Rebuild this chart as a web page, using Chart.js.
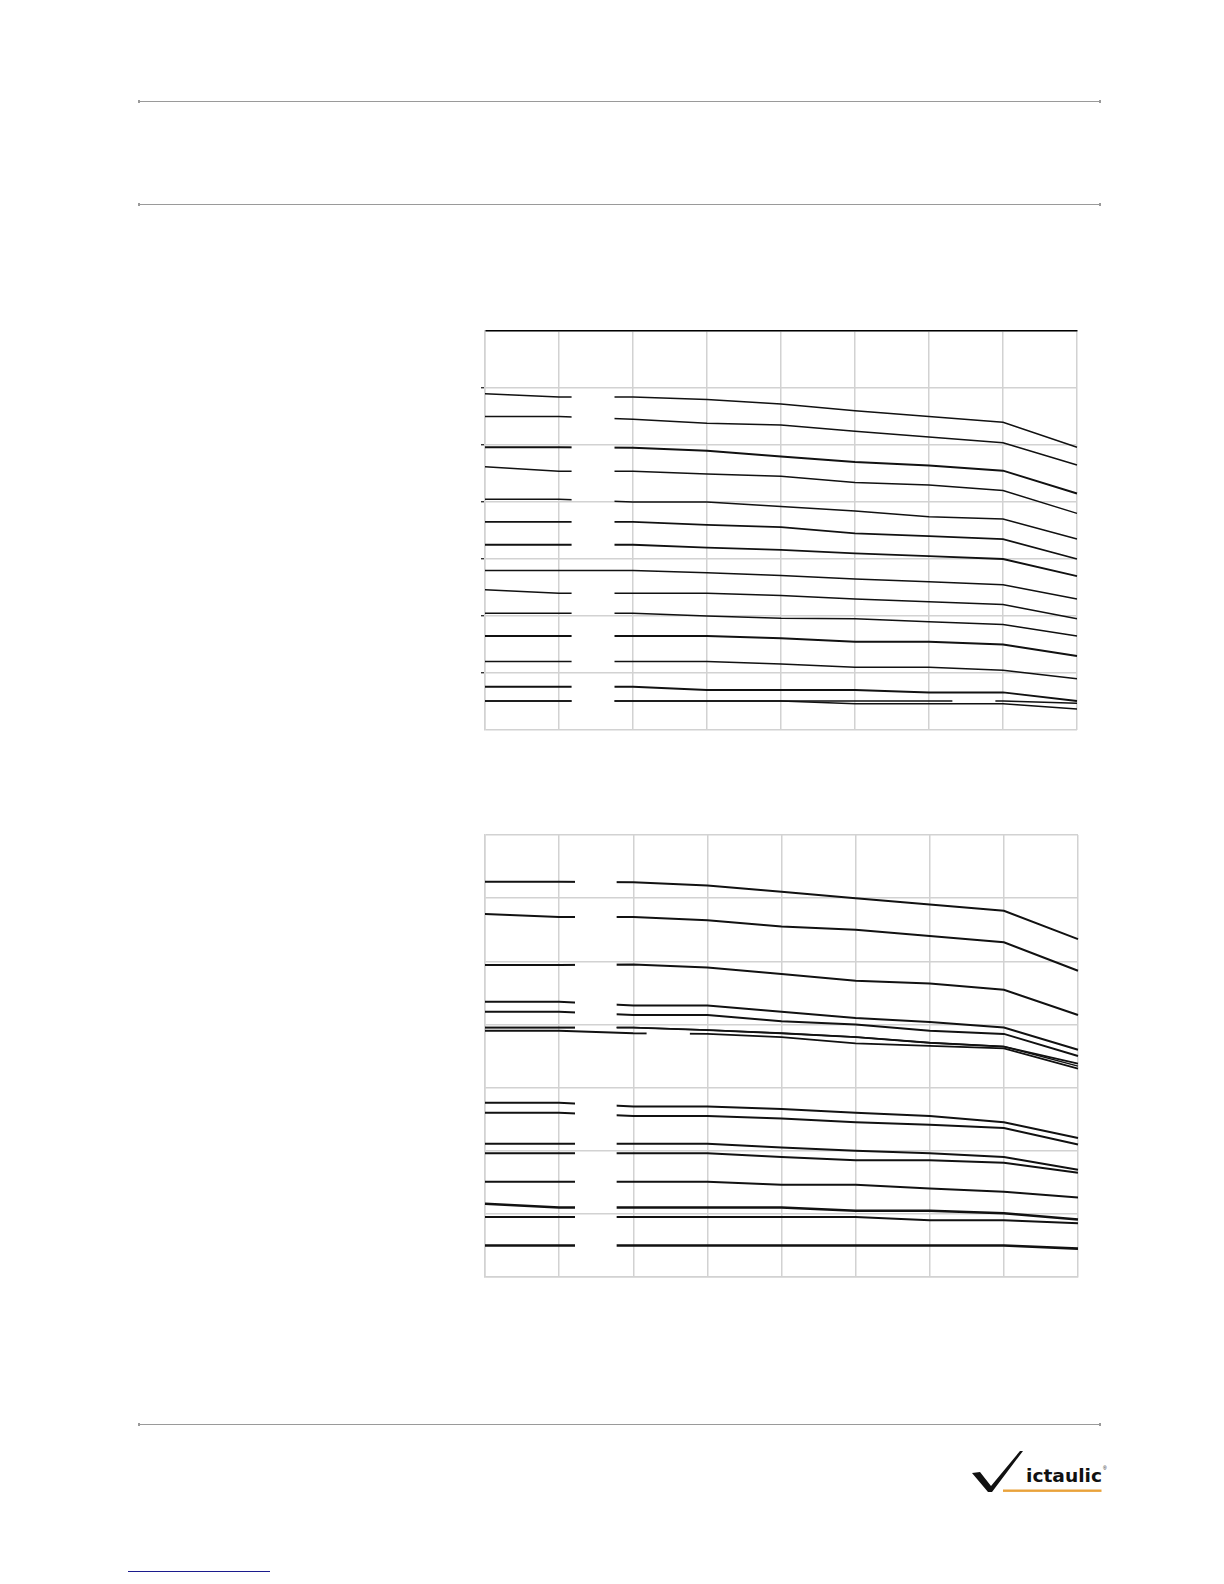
<!DOCTYPE html>
<html>
<head>
<meta charset="utf-8">
<script src="https://cdn.jsdelivr.net/npm/chart.js@4.4.1/dist/chart.umd.min.js"></script>
<style>
  html, body { margin: 0; padding: 0; background: #fff; }
  body { width: 1224px; height: 1584px; position: relative; overflow: hidden; font-family: "Liberation Sans", Arial, sans-serif; }
  .rule { position: absolute; left: 138px; width: 963px; height: 0; border-top: 1.3px solid #9a9a9a; }
  .rule:before, .rule:after { content: ""; position: absolute; top: -2px; width: 2px; height: 3px; background: #9a9a9a; }
  .rule:before { left: 0; }
  .rule:after { right: 0; }
  .box { position: absolute; }
  #link { position: absolute; left: 128px; top: 1571px; width: 142px; height: 0; border-top: 1.5px solid #1c1c8e; }
  #logo { position: absolute; left: 960px; top: 1445px; }
</style>
</head>
<body>
<div class="rule" style="top:101px"></div>
<div class="rule" style="top:204px"></div>
<div class="rule" style="top:1424px"></div>

<div class="box" style="left:479px; top:329px;"><canvas id="chartTop" width="600" height="403"></canvas></div>
<div class="box" style="left:483px; top:833px;"><canvas id="chartBottom" width="597" height="446"></canvas></div>

<svg id="logo" width="160" height="55" viewBox="0 0 160 55">
  <polygon points="12,28 20,27 31,41 60,6 63,6 32,47 28,47" fill="#111"/>
  <text x="66" y="37" font-family="DejaVu Sans, Liberation Sans, sans-serif" font-weight="bold" font-size="17" textLength="76" lengthAdjust="spacingAndGlyphs" fill="#111">ictaulic</text>
  <text x="143" y="25" font-family="Liberation Sans, Arial, sans-serif" font-size="5" fill="#111">®</text>
  <rect x="43" y="44.5" width="98.5" height="2.4" fill="#e9a23b"/>
</svg>
<div id="link"></div>

<script>
// categorias do eixo x (sem rótulos visíveis na figura)
const tempLabels = ['-20', '0', '40', '80', '120', '160', '200', '240', '280'];

// limites do eixo y
const yMin = 0;
const yMax = 350;
const yStep = 50;

// grafico de cima
const upper1 = [295, 292, 292, 290, 286, 280, 275, 270, 248];
const upper2 = [275, 275, 272.5, 269, 267.5, 262, 257, 252, 232.5];
const upper3 = [248, 248, 247.5, 245, 240, 235, 232, 227.5, 207.5];
const upper4 = [231, 227, 227, 224.5, 222.5, 217, 215, 210, 190];
const upper5 = [202.5, 202.5, 200, 200, 196, 192, 187, 185, 167.5];
const upper6 = [182.5, 182.5, 182.5, 180, 178, 172.5, 170, 167.5, 150];
const upper7 = [162.5, 162.5, 162.5, 160, 158, 155, 152.5, 150, 135];
const upper8 = [140, 140, 140, 138, 135.5, 132.5, 130, 127.5, 115];
const upper9 = [123, 120, 120, 120, 118, 115, 112.5, 110, 97.5];
const upper10 = [102.5, 102.5, 102.5, 100, 98, 97.5, 95, 92.5, 82.5];
const upper11 = [82.5, 82.5, 82.5, 82.5, 80.5, 77.5, 77.5, 75, 65];
const upper12 = [60, 60, 60, 60, 58, 55, 55, 52.5, 45];
const upper13 = [38, 38, 38, 35, 35, 35, 33, 33, 25.5];
const upper14 = [25.5, 25.5, 25.5, 25.5, 25.5, 25.5, 25.5, 25.5, 23.5];
const upper15 = [25.5, 25.5, 25.5, 25.5, 25.5, 23, 23, 23, 18.5];

// grafico de baixo
const lower1 = [313, 313, 312.5, 310, 305, 300, 295, 290, 267.5];
const lower2 = [287.5, 285, 285, 282.5, 277.5, 275, 270, 265, 242.5];
const lower3 = [247, 247, 247.5, 245, 240, 234.5, 232.5, 227.5, 207.5];
const lower4 = [218, 218, 215, 215, 210, 205, 202, 197.5, 180];
const lower5 = [210, 210, 207.5, 207.5, 202.5, 200, 195, 192.5, 175];
const lower6 = [197.5, 197.5, 197.5, 195.5, 193, 190, 185.5, 182.5, 169];
const lower7 = [197.5, 197.5, 197.5, 195.5, 193, 190, 185.5, 182.5, 167];
const lower8 = [195, 195, 193, 192.5, 190, 185, 183, 181, 165];
const lower9 = [138, 138, 135, 135, 133, 130, 127.5, 122.5, 110];
const lower10 = [130, 130, 127.5, 127.5, 125.5, 122.5, 120.5, 118, 105];
const lower11 = [105.5, 105.5, 105.5, 105.5, 102.5, 100, 98, 95, 85];
const lower12 = [98, 98, 98, 98, 95, 92.5, 92.5, 90.5, 82.5];
const lower13 = [75.5, 75.5, 75.5, 75.5, 73, 73, 70, 67.5, 63];
const lower14 = [58, 55, 55, 55, 55, 52.5, 52.5, 50.5, 45.5];
const lower15 = [47.5, 47.5, 47.5, 47.5, 47.5, 47.5, 45, 45, 42.5];
const lower16 = [25, 25, 25, 25, 25, 25, 25, 25, 22.5];

// recorta o traço das linhas nos intervalos onde ficavam os rótulos
const gapClip = {
    id: "gapClip",
    beforeDatasetDraw(chart, args) {
        const ctx = chart.ctx;
        const gaps = chart.data.datasets[args.index].gaps || [];
        ctx.save();
        if (gaps.length === 0) return;
        const a = chart.chartArea;
        const x = chart.scales.x;
        ctx.beginPath();
        ctx.rect(0, 0, chart.width, chart.height);
        gaps.forEach(g => {
            const x1 = x.getPixelForValue(g[0]);
            const x2 = x.getPixelForValue(g[1]);
            ctx.rect(x1, a.top - 5, x2 - x1, a.bottom - a.top + 10);
        });
        ctx.clip("evenodd");
    },
    afterDatasetDraw(chart) {
        chart.ctx.restore();
    }
};

function linha(data, width, gaps) {
    return {
        data: data,
        borderColor: "#111",
        borderWidth: width,
        pointRadius: 0,
        tension: 0,
        fill: false,
        gaps: gaps
    };
}

const gridGray = "#d2d2d2";

function opcoes(top) {
    return {
        responsive: false,
        animation: false,
        devicePixelRatio: 1,
        layout: { padding: top ? { top: 2, right: 2, bottom: 2, left: 0 } : 2 },
        plugins: { legend: { display: false }, tooltip: { enabled: false } },
        scales: {
            x: {
                position: top ? "top" : "bottom",
                offset: false,
                ticks: { display: false },
                grid: { color: gridGray, lineWidth: 1.5, drawTicks: false },
                border: top ? { color: "#000", width: 1.6 } : { color: gridGray, width: 1.5 },
                afterFit: s => { s.height = 0; }
            },
            y: {
                min: yMin,
                max: yMax,
                ticks: { display: false, stepSize: yStep },
                grid: {
                    color: gridGray,
                    lineWidth: 1.5,
                    drawTicks: top,
                    tickLength: 4,
                    tickWidth: 1.2,
                    tickColor: c => (c.index > 0 && c.index < 7) ? "#111" : "rgba(0,0,0,0)"
                },
                border: { color: gridGray, width: 1.5 },
                afterFit: s => { s.width = top ? 6 : 0; }
            }
        }
    };
}

const g1 = [[1.17, 1.75]];
const g2 = [[1.214, 1.776]];

new Chart(document.getElementById("chartTop").getContext("2d"), {
    type: "line",
    data: {
        labels: tempLabels,
        datasets: [
            linha(upper1, 1.5, g1),
            linha(upper2, 1.5, g1),
            linha(upper3, 2, g1),
            linha(upper4, 1.5, g1),
            linha(upper5, 1.5, g1),
            linha(upper6, 1.8, g1),
            linha(upper7, 1.8, g1),
            linha(upper8, 1.5, []),
            linha(upper9, 1.5, g1),
            linha(upper10, 1.5, g1),
            linha(upper11, 2, g1),
            linha(upper12, 1.5, g1),
            linha(upper13, 2, g1),
            linha(upper14, 1.5, [[1.17, 1.75], [6.316, 6.897]]),
            linha(upper15, 1.5, g1)
        ]
    },
    options: opcoes(true),
    plugins: [gapClip]
});

new Chart(document.getElementById("chartBottom").getContext("2d"), {
    type: "line",
    data: {
        labels: tempLabels,
        datasets: [
            linha(lower1, 2, g2),
            linha(lower2, 2, g2),
            linha(lower3, 2, g2),
            linha(lower4, 2, g2),
            linha(lower5, 2, g2),
            linha(lower6, 1.8, g2),
            linha(lower7, 1.5, g2),
            linha(lower8, 1.8, [[2.18, 2.764]]),
            linha(lower9, 2, g2),
            linha(lower10, 2, g2),
            linha(lower11, 2, g2),
            linha(lower12, 2, g2),
            linha(lower13, 2, g2),
            linha(lower14, 2.4, g2),
            linha(lower15, 2, g2),
            linha(lower16, 2.6, g2)
        ]
    },
    options: opcoes(false),
    plugins: [gapClip]
});
</script>
</body>
</html>
